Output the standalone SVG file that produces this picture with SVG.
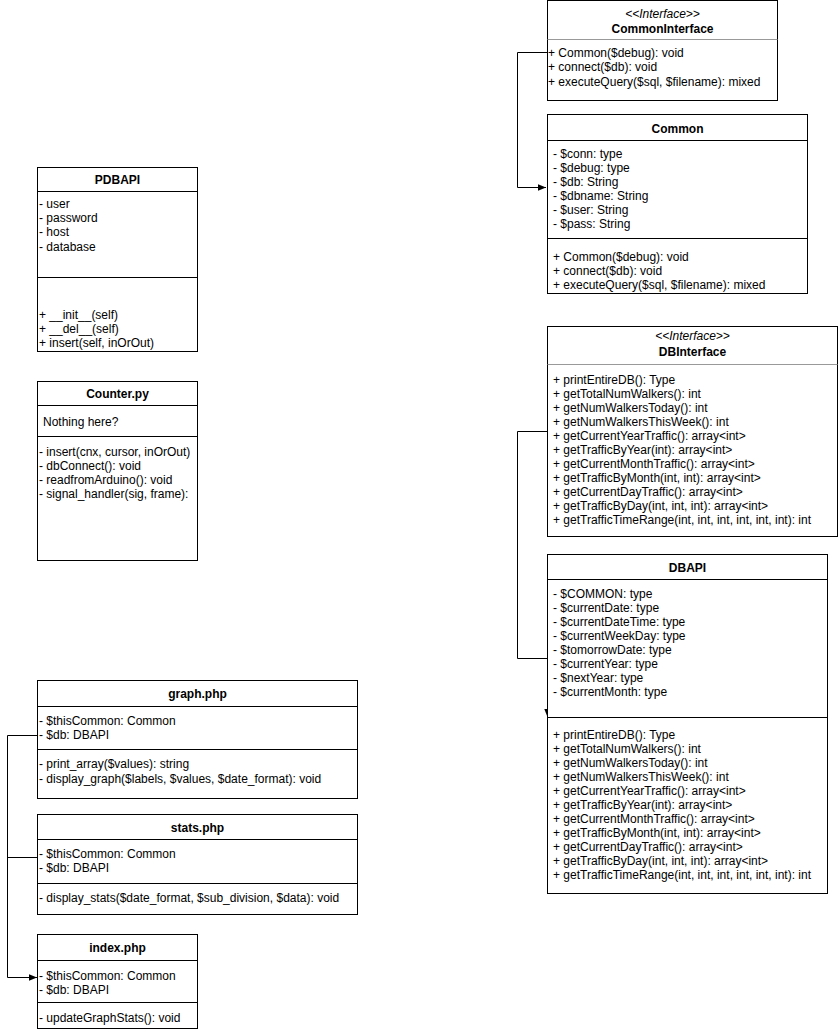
<svg xmlns="http://www.w3.org/2000/svg" width="838" height="1032" viewBox="0 0 838 1032">
<style>
.box{fill:#fff;stroke:#000;stroke-width:1}
.div{stroke:#000;stroke-width:1}
.gdiv{stroke:#999;stroke-width:1}
text{font-family:"Liberation Sans",Arial,Helvetica,sans-serif;font-size:12px;fill:#000}
.b{font-weight:bold}
.i{font-style:italic}
.c{text-anchor:middle}
.edge{fill:none;stroke:#000;stroke-width:1}
</style>
<defs>
<marker id="arr" viewBox="0 0 8 8" refX="8" refY="4" markerWidth="8" markerHeight="8" markerUnits="userSpaceOnUse" orient="auto">
<path d="M0,0.8 L8,4 L0,7.2 Z" fill="#000"/>
</marker>
</defs>
<rect width="838" height="1032" fill="#fff"/>

<g id="connectors">
<path class="edge" d="M547,52.5 H517.5 V187.5 H546" marker-end="url(#arr)"/>
<path class="edge" d="M547,431.5 H517.5 V658.5 H547.5 V717" marker-end="url(#arr)"/>
<path class="edge" d="M37,735.5 H7.5 V977.5 H37" marker-end="url(#arr)"/>
<path class="edge" d="M37,857.5 H7.5"/>
</g>

<g id="CommonInterface">
<rect class="box" x="547.5" y="0.5" width="230" height="100"/>
<line class="gdiv" x1="547.5" y1="39.5" x2="777.5" y2="39.5"/>
<text class="i c" x="662.5" y="18">&lt;&lt;Interface&gt;&gt;</text>
<text class="b c" x="662.5" y="33">CommonInterface</text>
<text x="548" y="57">+ Common($debug): void</text>
<text x="548" y="71">+ connect($db): void</text>
<text x="548" y="85.5">+ executeQuery($sql, $filename): mixed</text>
</g>

<g id="Common">
<rect class="box" x="547.5" y="114.5" width="260" height="179"/>
<line class="div" x1="547.5" y1="140.5" x2="807.5" y2="140.5"/>
<text class="b c" x="677.5" y="132.5">Common</text>
<text x="553" y="157.5">- $conn: type</text>
<text x="553" y="171.5">- $debug: type</text>
<text x="553" y="185.5">- $db: String</text>
<text x="553" y="199.5">- $dbname: String</text>
<text x="553" y="213.5">- $user: String</text>
<text x="553" y="227.5">- $pass: String</text>
<line class="div" x1="547.5" y1="238.5" x2="807.5" y2="238.5"/>
<text x="553" y="260.5">+ Common($debug): void</text>
<text x="553" y="274.5">+ connect($db): void</text>
<text x="553" y="288.5">+ executeQuery($sql, $filename): mixed</text>
</g>

<g id="DBInterface">
<rect class="box" x="547.5" y="326.5" width="290" height="210"/>
<line class="gdiv" x1="547.5" y1="364.5" x2="837.5" y2="364.5"/>
<text class="i c" x="692.5" y="339.5">&lt;&lt;Interface&gt;&gt;</text>
<text class="b c" x="692.5" y="355.5">DBInterface</text>
<text x="553" y="383.5">+ printEntireDB(): Type</text>
<text x="553" y="397.5">+ getTotalNumWalkers(): int</text>
<text x="553" y="411.5">+ getNumWalkersToday(): int</text>
<text x="553" y="425.5">+ getNumWalkersThisWeek(): int</text>
<text x="553" y="439.5">+ getCurrentYearTraffic(): array&lt;int&gt;</text>
<text x="553" y="453.5">+ getTrafficByYear(int): array&lt;int&gt;</text>
<text x="553" y="467.5">+ getCurrentMonthTraffic(): array&lt;int&gt;</text>
<text x="553" y="481.5">+ getTrafficByMonth(int, int): array&lt;int&gt;</text>
<text x="553" y="495.5">+ getCurrentDayTraffic(): array&lt;int&gt;</text>
<text x="553" y="509.5">+ getTrafficByDay(int, int, int): array&lt;int&gt;</text>
<text x="553" y="523.5">+ getTrafficTimeRange(int, int, int, int, int, int): int</text>
</g>

<g id="DBAPI">
<rect class="box" x="547.5" y="554.5" width="280" height="339"/>
<line class="div" x1="547.5" y1="579.5" x2="827.5" y2="579.5"/>
<text class="b c" x="687.5" y="571.5">DBAPI</text>
<text x="553" y="597.5">- $COMMON: type</text>
<text x="553" y="611.5">- $currentDate: type</text>
<text x="553" y="625.5">- $currentDateTime: type</text>
<text x="553" y="639.5">- $currentWeekDay: type</text>
<text x="553" y="653.5">- $tomorrowDate: type</text>
<text x="553" y="667.5">- $currentYear: type</text>
<text x="553" y="681.5">- $nextYear: type</text>
<text x="553" y="695.5">- $currentMonth: type</text>
<line class="div" x1="547.5" y1="717.5" x2="827.5" y2="717.5"/>
<text x="553" y="738.5">+ printEntireDB(): Type</text>
<text x="553" y="752.5">+ getTotalNumWalkers(): int</text>
<text x="553" y="766.5">+ getNumWalkersToday(): int</text>
<text x="553" y="780.5">+ getNumWalkersThisWeek(): int</text>
<text x="553" y="794.5">+ getCurrentYearTraffic(): array&lt;int&gt;</text>
<text x="553" y="808.5">+ getTrafficByYear(int): array&lt;int&gt;</text>
<text x="553" y="822.5">+ getCurrentMonthTraffic(): array&lt;int&gt;</text>
<text x="553" y="836.5">+ getTrafficByMonth(int, int): array&lt;int&gt;</text>
<text x="553" y="850.5">+ getCurrentDayTraffic(): array&lt;int&gt;</text>
<text x="553" y="864.5">+ getTrafficByDay(int, int, int): array&lt;int&gt;</text>
<text x="553" y="878.5">+ getTrafficTimeRange(int, int, int, int, int, int): int</text>
</g>

<g id="PDBAPI">
<rect class="box" x="37.5" y="167.5" width="160" height="184"/>
<line class="div" x1="37.5" y1="191.5" x2="197.5" y2="191.5"/>
<text class="b c" x="117.5" y="184">PDBAPI</text>
<text x="39" y="207.5">- user</text>
<text x="39" y="222">- password</text>
<text x="39" y="236">- host</text>
<text x="39" y="250.5">- database</text>
<line class="div" x1="37.5" y1="277.5" x2="197.5" y2="277.5"/>
<text x="39" y="318.5">+ __init__(self)</text>
<text x="39" y="332.5">+ __del__(self)</text>
<text x="39" y="347">+ insert(self, inOrOut)</text>
</g>

<g id="Counter">
<rect class="box" x="37.5" y="381.5" width="160" height="179"/>
<line class="div" x1="37.5" y1="405.5" x2="197.5" y2="405.5"/>
<text class="b c" x="117.5" y="398">Counter.py</text>
<text x="43" y="425.5">Nothing here?</text>
<line class="div" x1="37.5" y1="436.5" x2="197.5" y2="436.5"/>
<text x="39" y="455.5">- insert(cnx, cursor, inOrOut)</text>
<text x="39" y="469.5">- dbConnect(): void</text>
<text x="39" y="483.5">- readfromArduino(): void</text>
<text x="39" y="497.5">- signal_handler(sig, frame):</text>
</g>

<g id="graph">
<rect class="box" x="37.5" y="680.5" width="320" height="118"/>
<line class="div" x1="37.5" y1="706.5" x2="357.5" y2="706.5"/>
<text class="b c" x="197.5" y="698">graph.php</text>
<text x="39" y="724.5">- $thisCommon: Common</text>
<text x="39" y="739">- $db: DBAPI</text>
<line class="div" x1="37.5" y1="749.5" x2="357.5" y2="749.5"/>
<text x="39" y="767.5">- print_array($values): string</text>
<text x="39" y="782.5">- display_graph($labels, $values, $date_format): void</text>
</g>

<g id="stats">
<rect class="box" x="37.5" y="814.5" width="320" height="100"/>
<line class="div" x1="37.5" y1="839.5" x2="357.5" y2="839.5"/>
<text class="b c" x="197.5" y="831.5">stats.php</text>
<text x="39" y="857.5">- $thisCommon: Common</text>
<text x="39" y="871.5">- $db: DBAPI</text>
<line class="div" x1="37.5" y1="883.5" x2="357.5" y2="883.5"/>
<text x="39" y="901.5">- display_stats($date_format, $sub_division, $data): void</text>
</g>

<g id="index">
<rect class="box" x="37.5" y="934.5" width="160" height="94"/>
<line class="div" x1="37.5" y1="960.5" x2="197.5" y2="960.5"/>
<text class="b c" x="117.5" y="952">index.php</text>
<text x="39" y="979.5">- $thisCommon: Common</text>
<text x="39" y="993.5">- $db: DBAPI</text>
<line class="div" x1="37.5" y1="1002.5" x2="197.5" y2="1002.5"/>
<text x="39" y="1022">- updateGraphStats(): void</text>
</g>
</svg>
